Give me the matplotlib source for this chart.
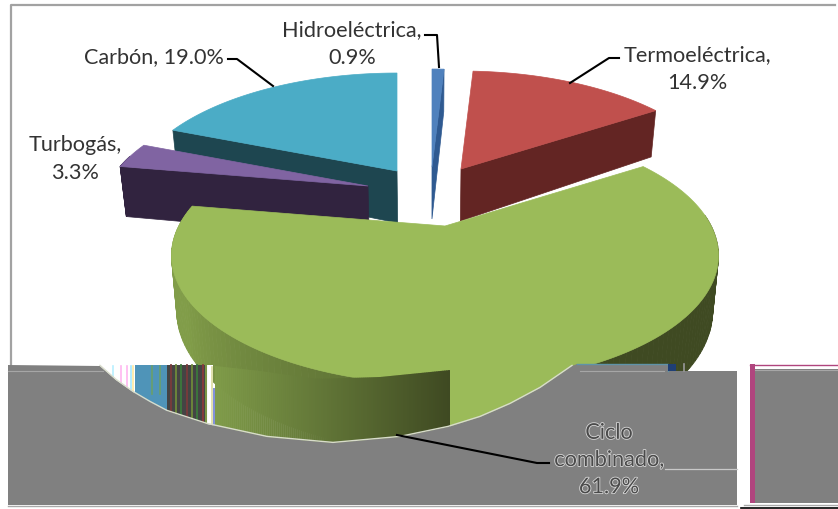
import numpy as np
import matplotlib
matplotlib.use('Agg')
import matplotlib.pyplot as plt
from matplotlib import patheffects

# Shares in percent, clockwise from twelve o'clock.
names = ['Hidroeléctrica', 'Termoeléctrica', 'Ciclo combinado', 'Turbogás', 'Carbón']
shares = [0.9, 14.9, 61.9, 3.3, 19.0]
labelText = ['Hidroeléctrica,\n0.9%', 'Termoeléctrica,\n14.9%', 'Ciclo\ncombinado,\n61.9%',
             'Turbogás,\n3.3%', 'Carbón, 19.0%']

# Look of each slice: face colour, wall colour, apex in picture pixels, radius factor.
faceColors = ['#4f81bd', '#c0504d', '#9bbb59', '#8064a2', '#4bacc6']
wallColors = ['#2f5a91', '#632523', '#3f4a22', '#31233f', '#1e4650']
apexes = [(432, 168), (461, 170), (445, 227), (368, 187), (397, 172)]
radii = [1.0, 1.0, 1.02, 1.0, 1.0]
drawOrder = [0, 1, 4, 3, 2]

# Camera used for the tilted pie.
FOCAL = 4.45
SCALE_X = 261.0
SCALE_Y = 120.0
DEPTH = 52.0
SHRINK = 0.98

labelPos = [(352, 44), (697, 69), (609, 461), (75, 159), (154, 57)]
leaders = [[(425, 36), (437, 36), (439, 68)],
           [(619, 59), (609, 59), (570, 84)],
           [(549, 464), (537, 464), (397, 436)],
           None,
           [(228, 60), (237, 60), (273, 87)]]

# Outline of the bite in the grey block.
holeX = [100, 116, 133, 150, 167, 207, 267, 333, 400, 448, 480, 510, 540, 572]
holeY = [367, 381, 393, 403, 412, 425, 438, 444, 438, 428, 418, 405, 389, 367]

fig = plt.figure(figsize=(8.38, 5.10), dpi=100)
ax = fig.add_axes([0, 0, 1, 1])
ax.set_xlim(0, 838)
ax.set_ylim(510, 0)
ax.axis('off')


def rim(i, deg, down=False):
    t = np.radians(deg)
    x, y = radii[i] * np.sin(t), radii[i] * np.cos(t)
    s = FOCAL / (FOCAL + y)
    px = apexes[i][0] + x * s * SCALE_X
    py = apexes[i][1] - y * s * SCALE_Y
    if down:
        px = 430 + (px - 430) * SHRINK
        py = py + DEPTH * s
    return px, py


def sink(i):
    return 430 + (apexes[i][0] - 430) * SHRINK, apexes[i][1] + DEPTH


def mix(a, b, f):
    a = np.array(matplotlib.colors.to_rgb(a))
    b = np.array(matplotlib.colors.to_rgb(b))
    return tuple(a + (b - a) * f)


edges = np.cumsum([0] + shares) * 3.6

# Frame of the chart area.
ax.plot([11, 11, 835], [366, 5.5, 5.5], color='#a2a2a2', lw=1.6, zorder=1)

z = 2
for i in drawOrder:
    start, end = edges[i], edges[i + 1]
    apex = apexes[i]
    arc = np.linspace(start, end, 160)
    # Radial walls that look towards the viewer.
    for edge, seen in [(start, start > 180), (end, end < 180)]:
        if seen:
            p = rim(i, edge)
            q = rim(i, edge, True)
            ax.fill([apex[0], p[0], q[0], sink(i)[0]], [apex[1], p[1], q[1], sink(i)[1]],
                    color=wallColors[i], lw=0.5, zorder=z)
    # Curved wall, shaded from dark on the right to mid green on the left.
    for a, b in zip(arc[:-1], arc[1:]):
        mid = (a + b) / 2
        if mid < 85 or mid > 285:
            continue
        f = np.clip((mid - 150) / 90, 0, 1)
        c = mix('#3f4a22', '#819d49', f) if i == 2 else wallColors[i]
        p1, p2 = rim(i, a), rim(i, b)
        q1, q2 = rim(i, a, True), rim(i, b, True)
        ax.fill([p1[0], p2[0], q2[0], q1[0]], [p1[1], p2[1], q2[1], q1[1]],
                color=c, lw=0.6, zorder=z)
    top = [rim(i, d) for d in arc]
    ax.fill([apex[0]] + [t[0] for t in top], [apex[1]] + [t[1] for t in top],
            color=faceColors[i], lw=0.5, zorder=z + 0.5)
    z += 1

# Damaged lower part of the picture.
Z = 20
ax.fill_between([100, 205], 366, 440, color='white', lw=0, zorder=Z)
ax.fill_between([135, 167], 366, 440, color='#4f94b8', lw=0, zorder=Z + 1)
ax.fill_between([167, 206], 366, 440, color='#444444', lw=0, zorder=Z + 1)
for sx, sc in [(171, '#7a3b3b'), (176, '#6f8a3a'), (181, '#3c7a3c'), (187, '#7a3b3b'),
               (192, '#6f8a3a'), (197, '#3c7a3c'), (203, '#8a3b3b')]:
    ax.plot([sx, sx], [366, 440], color=sc, lw=1.3, zorder=Z + 1)
for sx, sc in [(121, '#ffb6f0'), (127, '#ffb6f0'), (131, '#a6e8ff'), (133, '#ffe9a0'),
               (113, '#b8f0ff'), (152, '#6aa06a'), (160, '#6aa06a')]:
    ax.plot([sx, sx], [367, 395], color=sc, lw=1.2, zorder=Z + 1)
ax.fill_between([206, 213], 366, 440, color='#ffffff', lw=0, zorder=Z + 1)
ax.plot([205.5, 205.5], [366, 425], color='#7a9645', lw=1.5, zorder=Z + 1)
ax.plot([212, 212], [368, 430], color='#dcdca0', lw=1.2, zorder=Z + 2)
ax.plot([214, 214], [390, 430], color='#7f8fd8', lw=1.4, zorder=Z + 2)

# Gradient band and the flat green next to it.
bandX = np.linspace(215, 450, 118)
bandTopX = [215, 260, 317, 380, 420, 450]
bandTopY = [367, 372, 380, 378, 374, 371]
bandColor = np.linspace(0, 1, len(bandX) - 1)
for xa, xb, f in zip(bandX[:-1], bandX[1:], bandColor):
    ya = np.interp(xa, bandTopX, bandTopY)
    yb = np.interp(xb, bandTopX, bandTopY)
    ax.fill([xa, xb + 0.5, xb + 0.5, xa], [ya, yb, 450, 450],
            color=mix('#7f9b49', '#3f4a22', f), lw=0, zorder=Z + 1)
ax.fill([450, 450, 590, 590], [371, 450, 450, 366], color=faceColors[2], lw=0, zorder=Z + 1)

# Grey block laid over everything, with a curved bite taken out.
grayX = [8] + holeX + [577, 668, 668, 737, 737, 8]
grayY = [366] + holeY + [365, 365, 372, 372, 506, 506]
ax.fill(grayX, grayY, color='#808080', lw=0, zorder=Z + 3)
ax.plot(holeX, np.array(holeY) - 0.6, color='#d8dccb', lw=1.0, zorder=Z + 4)
ax.plot([8, 103], [372, 372], color='#a6a6a6', lw=0.8, zorder=Z + 4)
ax.plot([580, 664], [371.5, 371.5], color='#a6a6a6', lw=0.8, zorder=Z + 4)
ax.plot([577, 668, 668], [365, 365, 372], color='#5f93a8', lw=1.0, zorder=Z + 4)
ax.fill_between([668, 676], 365, 372, color='#1f3f75', lw=0, zorder=Z + 4)
ax.plot([684, 684], [365, 372], color='#999999', lw=1.2, zorder=Z + 4)
ax.plot([665, 737], [469.5, 469.5], color='#c8c8c8', lw=0.9, zorder=Z + 4)
ax.plot([8, 737], [507, 507], color='#a9a9a9', lw=1.0, zorder=Z + 4)

# Second grey block at the right edge.
ax.fill_between([755, 838], 370, 504, color='#808080', lw=0, zorder=Z + 3)
ax.fill_between([750, 755], 365, 504, color='#b0457e', lw=0, zorder=Z + 4)
ax.plot([750, 838], [365.5, 365.5], color='#b0457e', lw=1.0, zorder=Z + 4)
ax.plot([755, 838], [370.5, 370.5], color='#a6a6a6', lw=0.8, zorder=Z + 4)
ax.plot([744, 838], [505.5, 505.5], color='#a9a9a9', lw=1.0, zorder=Z + 4)
ax.plot([741, 838], [508.5, 508.5], color='black', lw=1.2, zorder=Z + 4)

# Labels and their leader lines.
for i in range(len(names)):
    onGray = i == 2
    if leaders[i] is not None:
        ax.plot([p[0] for p in leaders[i]], [p[1] for p in leaders[i]], color='black',
                lw=1.5, zorder=Z + 5, solid_joinstyle='round')
    t = ax.text(labelPos[i][0], labelPos[i][1], labelText[i], family='Lato', fontsize=15.6,
                color='#4a4a4a' if onGray else '#333333', ha='center', va='center',
                linespacing=1.45, zorder=Z + 6)
    if onGray:
        t.set_path_effects([patheffects.withStroke(linewidth=1.2, foreground='#d8d8d8')])

fig.savefig('out.png', dpi=100)
plt.clf()
